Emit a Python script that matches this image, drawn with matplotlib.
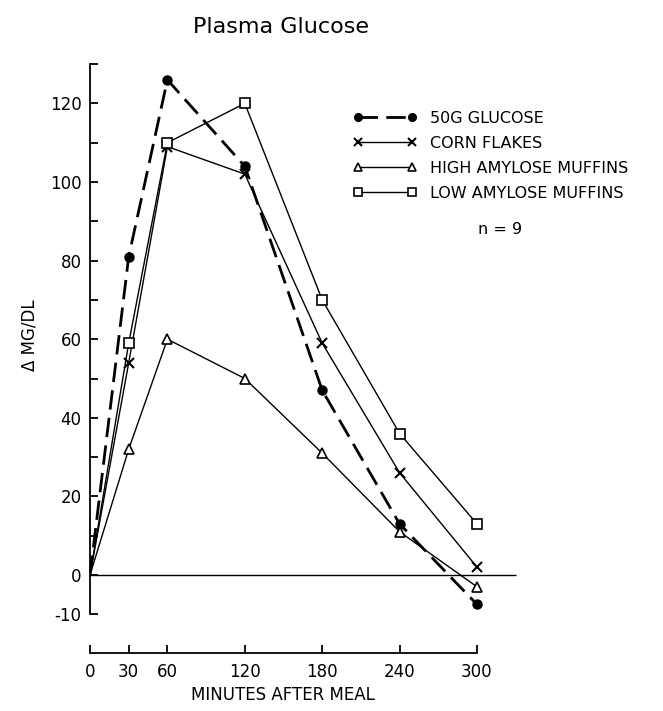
import matplotlib
matplotlib.use("Agg")
import matplotlib.pyplot as plt
from matplotlib.ticker import FixedLocator

plt.rcParams['font.family'] = ['DejaVu Sans']

minutes = [0, 30, 60, 120, 180, 240, 300]
glucose = [0, 81, 126, 104, 47, 13, -7.5]
corn_flakes = [0, 54, 109, 102, 59, 26, 2]
high_amylose = [0, 32, 60, 50, 31, 11, -3]
low_amylose = [0, 59, 110, 120, 70, 36, 13]

labels = ["50G GLUCOSE", "CORN FLAKES", "HIGH AMYLOSE MUFFINS", "LOW AMYLOSE MUFFINS"]
x_ticks = [0, 30, 60, 120, 180, 240, 300]
y_major = [-10, 0, 20, 40, 60, 80, 100, 120]
y_minor = [10, 30, 50, 70, 90, 110, 130]

W, H = 663, 711
fig = plt.figure(figsize=(W / 100, H / 100), dpi=100)

# axes placement in pixel terms
x0_px, px_per_min = 90, 1.29
y0_px, px_per_unit = 575, 3.93
xlim = (0, 335)
ylim = (-19.5, 132)
left = x0_px / W
width = (xlim[1] - xlim[0]) * px_per_min / W
top_px = y0_px - ylim[1] * px_per_unit
bot_px = y0_px - ylim[0] * px_per_unit
ax = fig.add_axes([left, 1 - bot_px / H, width, (bot_px - top_px) / H])
ax.set_xlim(*xlim)
ax.set_ylim(*ylim)
ax.patch.set_alpha(0)

lw_thin = 1.0
ax.hlines(0, 0, 330, color='black', lw=lw_thin, zorder=1)

marks = list(range(1, len(minutes)))
ax.plot(minutes, glucose, color='black', lw=2.0, dashes=(7, 3), markevery=marks,
        marker='o', ms=6.5, mfc='black', mec='black', label=labels[0], zorder=3)
ax.plot(minutes, corn_flakes, color='black', lw=lw_thin, markevery=marks,
        marker='x', ms=6.5, mew=1.5, label=labels[1], zorder=3)
ax.plot(minutes, high_amylose, color='black', lw=lw_thin, markevery=marks,
        marker='^', ms=7.5, mfc='white', mec='black', mew=1.2, label=labels[2], zorder=3)
ax.plot(minutes, low_amylose, color='black', lw=lw_thin, markevery=marks,
        marker='s', ms=6.5, mfc='white', mec='black', mew=1.2, label=labels[3], zorder=3)

# spines
for side in ('top', 'right'):
    ax.spines[side].set_visible(False)
ax.spines['left'].set_bounds(-10, 130)
ax.spines['left'].set_position(('data', 0))
ax.spines['bottom'].set_bounds(0, 300)
ax.spines['bottom'].set_position(('data', (y0_px - 653) / px_per_unit))
for sp in ('left', 'bottom'):
    ax.spines[sp].set_linewidth(1.3)

ax.set_xticks(x_ticks)
ax.set_xticklabels([str(v) for v in x_ticks])
ax.yaxis.set_major_locator(FixedLocator(y_major))
ax.yaxis.set_minor_locator(FixedLocator(y_minor))
ax.set_yticklabels([str(v) for v in y_major])
ax.tick_params(axis='both', which='both', direction='in', length=6, width=1.3)
ax.tick_params(axis='x', pad=7, labelsize=12)
ax.tick_params(axis='y', pad=6, labelsize=12)

leg = ax.legend(loc='upper left', bbox_to_anchor=(353 / W, 1 - 111 / H),
                bbox_transform=fig.transFigure, frameon=False, numpoints=2,
                handlelength=4.0, handletextpad=0.8, labelspacing=0.62,
                borderpad=0, borderaxespad=0, fontsize=11.5, markerscale=0.85)

fig.text(281 / W, 1 - 27 / H, "Plasma Glucose", ha='center', va='center', fontsize=16)
fig.text(500 / W, 1 - 230 / H, "n = 9", ha='center', va='center', fontsize=11.5)
fig.text(283 / W, 1 - 695 / H, "MINUTES AFTER MEAL", ha='center', va='center', fontsize=12)
fig.text(30 / W, 1 - 335 / H, "Δ MG/DL", ha='center', va='center', rotation=90, fontsize=12)

fig.savefig("out.png", dpi=100)
